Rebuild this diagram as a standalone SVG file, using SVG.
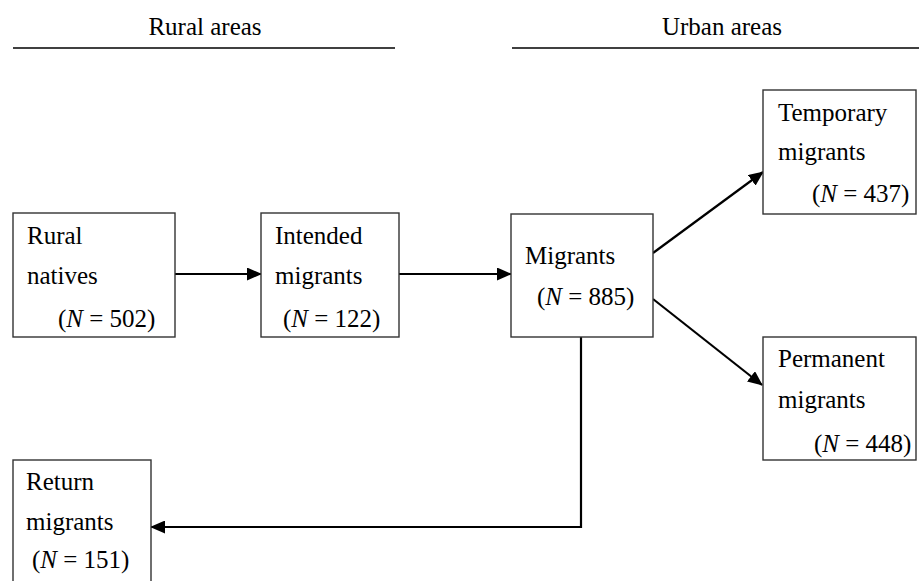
<svg xmlns="http://www.w3.org/2000/svg" width="919" height="581" viewBox="0 0 919 581">
<style>
text{font-family:'Liberation Serif','Times New Roman',Tinos,'DejaVu Serif',serif;font-size:25px;fill:#000}
.box{fill:#fff;stroke:#333;stroke-width:1.4}
.hdr{stroke:#000;stroke-width:1.6}
.con{fill:none;stroke:#000;stroke-width:2.2}
</style>
<defs>
<marker id="ah" markerWidth="15" markerHeight="13" refX="14" refY="6.5" orient="auto" markerUnits="userSpaceOnUse" viewBox="0 0 15 13">
<path d="M0,0 L15,6.5 L0,13 Z" fill="#000"/>
</marker>
</defs>
<g id="headers">
<line class="hdr" x1="13" y1="48" x2="395" y2="48"/>
<line class="hdr" x1="512" y1="48" x2="919" y2="48"/>
<text x="205" y="35" text-anchor="middle">Rural areas</text>
<text x="722" y="35" text-anchor="middle">Urban areas</text>
</g>
<g id="connectors">
<path class="con" d="M175,274 L261,274" marker-end="url(#ah)"/>
<path class="con" d="M399,274 L511,274" marker-end="url(#ah)"/>
<path class="con" d="M653,253 L763,172" marker-end="url(#ah)"/>
<path class="con" d="M653,299 L762,385" marker-end="url(#ah)"/>
<path class="con" d="M581,337 L581,527 L151,527" marker-end="url(#ah)"/>
</g>
<g id="rural-natives">
<rect class="box" x="13" y="213" width="162" height="124"/>
<text x="27" y="244">Rural</text>
<text x="27" y="284">natives</text>
<text x="58" y="327">(<tspan font-style="italic">N</tspan> = 502)</text>
</g>
<g id="intended-migrants">
<rect class="box" x="261" y="213" width="138" height="124"/>
<text x="275" y="244">Intended</text>
<text x="275" y="284">migrants</text>
<text x="283" y="327">(<tspan font-style="italic">N</tspan> = 122)</text>
</g>
<g id="migrants">
<rect class="box" x="511" y="214" width="142" height="123"/>
<text x="525" y="264">Migrants</text>
<text x="537" y="305">(<tspan font-style="italic">N</tspan> = 885)</text>
</g>
<g id="temporary-migrants">
<rect class="box" x="763" y="90" width="153" height="124"/>
<text x="778" y="121">Temporary</text>
<text x="778" y="160">migrants</text>
<text x="812" y="202">(<tspan font-style="italic">N</tspan> = 437)</text>
</g>
<g id="permanent-migrants">
<rect class="box" x="763" y="337" width="153" height="123"/>
<text x="778" y="367">Permanent</text>
<text x="778" y="408">migrants</text>
<text x="814" y="452">(<tspan font-style="italic">N</tspan> = 448)</text>
</g>
<g id="return-migrants">
<rect class="box" x="13" y="460" width="138" height="130"/>
<text x="26" y="490">Return</text>
<text x="26" y="530">migrants</text>
<text x="32" y="568">(<tspan font-style="italic">N</tspan> = 151)</text>
</g>
</svg>
